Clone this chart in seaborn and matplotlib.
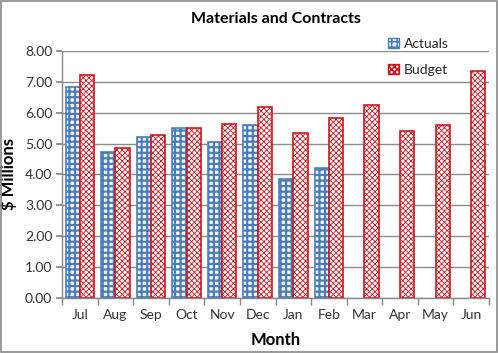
import matplotlib
matplotlib.use("Agg")
import matplotlib.pyplot as plt
import seaborn as sns
import pandas as pd
from matplotlib.patches import Rectangle

months = ["Jul", "Aug", "Sep", "Oct", "Nov", "Dec", "Jan", "Feb", "Mar", "Apr", "May", "Jun"]
actuals = [6.82, 4.73, 5.22, 5.50, 5.06, 5.59, 3.85, 4.22]
budget = [7.22, 4.86, 5.27, 5.50, 5.62, 6.18, 5.34, 5.84, 6.26, 5.40, 5.61, 7.36]
yticks = [0, 1, 2, 3, 4, 5, 6, 7, 8]

rows = []
for m, v in zip(months, actuals):
    rows.append({"Month": m, "Value": v, "Series": "Actuals"})
for m, v in zip(months, budget):
    rows.append({"Month": m, "Value": v, "Series": "Budget"})
df = pd.DataFrame(rows)

sns.set_theme(style="white")
plt.rcParams["font.family"] = ["Lato", "DejaVu Sans"]
plt.rcParams["hatch.linewidth"] = 1.2

blue = "#4a7ebb"
red = "#d0161e"

fig = plt.figure(figsize=(4.98, 3.53), dpi=100)
ax = fig.add_axes([0.1245, 0.1566, 0.8575, 0.699])

sns.barplot(data=df, x="Month", y="Value", hue="Series", order=months,
            hue_order=["Actuals", "Budget"], width=0.8, errorbar=None,
            palette={"Actuals": "white", "Budget": "white"}, ax=ax, legend=False)

styles = {0: (blue, "+++", 1.6), 1: (red, "xxxxxx", 0.6)}
for i, cont in enumerate(ax.containers):
    col, h, hlw = styles[i]
    for p in cont:
        p.set_facecolor("white")
        p.set_edgecolor(col)
        p.set_hatch(h)
        if hasattr(p, "set_hatch_linewidth"):
            p.set_hatch_linewidth(hlw)
        p.set_linewidth(1.2)

ax.set_ylim(0, 8)
ax.set_yticks(yticks)
ax.set_yticklabels([f"{t:.2f}" for t in yticks], color="#333333", fontsize=10)
ax.set_xlim(-0.5, len(months) - 0.5)
ax.set_xticks(range(len(months)))
ax.set_xticklabels(months, color="#333333", fontsize=10)
ax.tick_params(axis="x", length=0, pad=8)
ax.tick_params(axis="y", length=4, direction="out", color="#888888", left=True, pad=3)
ax.set_xticks([x - 0.5 for x in range(len(months) + 1)], minor=True)
ax.tick_params(axis="x", which="minor", length=5, direction="out", color="#888888", bottom=True)

ax.grid(axis="y", color="#8c8c8c", linewidth=1)
ax.set_axisbelow(True)
for s in ["top", "right"]:
    ax.spines[s].set_visible(False)
for s in ["left", "bottom"]:
    ax.spines[s].set_color("#888888")
    ax.spines[s].set_linewidth(1)

ax.set_xlabel("Month", fontsize=12, fontweight="bold", color="black", labelpad=8)
ax.set_ylabel("$ Millions", fontsize=12, fontweight="bold", color="black", labelpad=6)
ax.set_title("Materials and Contracts", fontsize=11.5, fontweight="bold", pad=20, color="black")

h1 = Rectangle((0, 0), 1, 1, facecolor="white", edgecolor=blue, hatch="+++", linewidth=1)
h2 = Rectangle((0, 0), 1, 1, facecolor="white", edgecolor=red, hatch="xxxxxx", linewidth=1)
ax.legend([h1, h2], ["Actuals", "Budget"], loc="upper left", bbox_to_anchor=(0.735, 1.105),
          frameon=False, fontsize=10, handlelength=0.8, handleheight=0.8,
          handletextpad=0.3, labelspacing=1.0)

fig.patches.append(Rectangle((0.002, 0.003), 0.995, 0.994, transform=fig.transFigure,
                             fill=False, edgecolor="#888888", linewidth=1.2))

fig.savefig("out.png", dpi=100)
